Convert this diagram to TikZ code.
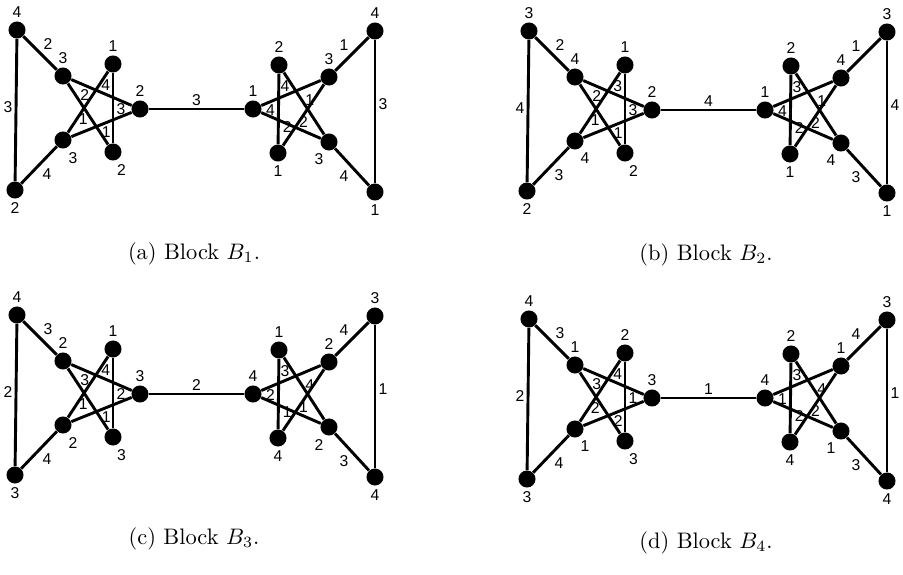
\documentclass[tikz,border=0pt]{standalone}
\usepackage{fontspec}
\usepackage{tikz}
\newfontfamily\numfont{Liberation Sans}

\begin{document}
\begin{tikzpicture}[x=0.446pt,y=-0.446pt,
		vtx/.style={circle,fill=black,inner sep=0pt,minimum size=7.6pt},
		num/.style={font=\numfont\fontsize{7}{8}\selectfont,inner sep=1pt},
		vnum/.style={num,inner sep=1.3pt},
		link/.style={line width=1.3pt}]
	\useasboundingbox (0,0) rectangle (903,574);
	
	% One block per subfigure: shift, vertex colours, edge colours.
	\foreach \blk/\bn/\sx/\sy/\vl/\el in {
		a/1/0/0/{{4,2,3,3,1,2,2,1,2,1,3,3,4,1}}/{{3,2,4,4,2,3,1,1,3,4,1,4,2,2,1,3,4}},
		b/2/512/1/{{3,2,4,4,1,2,2,1,2,1,4,4,3,1}}/{{4,2,3,3,2,3,1,1,4,3,1,4,2,2,1,4,3}},
		c/3/0/285/{{4,3,2,2,1,3,3,4,1,4,2,2,3,4}}/{{2,3,4,4,3,2,1,1,2,3,4,2,1,1,4,1,3}},
		d/4/512/289/{{4,3,1,1,2,3,3,4,2,4,1,1,3,4}}/{{2,3,4,4,3,1,2,2,1,3,4,1,2,2,4,1,3}}}{
		\begin{scope}[shift={(\sx,\sy)},name prefix=\blk-]
			% Vertices: outer pair, left pentagram, right pentagram, outer pair.
			\foreach \v/\x/\y/\ang [count=\i from 0] in {
				tl/17/30/90, bl/15/190/-90,
				la/63/76/90, lb/63/140/-76, lc/113/64/90, ld/113/152/-85, le/140/109/90,
				re/253/109/90, rc/279/65/90, rd/278/153/-90, ra/329/77/90, rb/329/142/-105,
				tr/375/31/90, br/375/192/-90}{
				\pgfmathtruncatemacro\col{\vl[\i]}
				\node[vtx,label={[vnum]\ang:\col}] (\v) at (\x,\y) {};
			}
			% Edges, each with its colour.
			\foreach \p/\q/\ps/\side [count=\i from 0] in {
				tl/bl/0.48/left, tl/la/0.5/above right, bl/lb/0.5/below right,
				la/le/0.57/above, lb/lc/0.62/left, lc/ld/0.51/right,
				la/ld/0.58/left, lb/le/0.58/below,
				le/re/0.5/above,
				re/ra/0.4/above, rc/rb/0.44/right, rc/rd/0.51/left,
				ra/rd/0.7/left, re/rb/0.71/above,
				tr/ra/0.5/above left, tr/br/0.45/right, rb/br/0.5/below left}{
				\pgfmathtruncatemacro\col{\el[\i]}
				\draw[link] (\p) -- (\q) node[num,pos=\ps,\side] {\col};
			}
			\node[anchor=base] (cap) at (194,259.5) {(\blk) Block $B_{\bn}$.};
		\end{scope}
	}
\end{tikzpicture}
\end{document}
